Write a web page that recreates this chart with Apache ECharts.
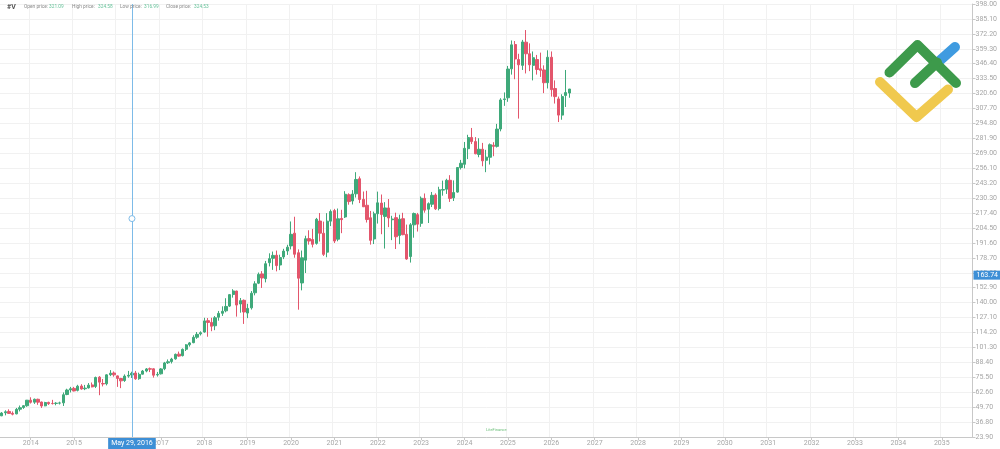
<!DOCTYPE html>
<html><head><meta charset="utf-8">
<script src="https://cdn.jsdelivr.net/npm/echarts@6/dist/echarts.min.js"></script>
<style>html,body{margin:0;padding:0;background:#fff}#c{width:1000px;height:449px}</style>
</head><body><div id="c"></div>
<script>
// Monthly candles for #V, May 2013 .. Jun 2026
const firstMonth = [2013, 5];
const opens = [42.2,44.8,46.0,44.4,43.9,47.9,49.4,50.9,
55.7,54.0,56.5,54.1,50.8,53.8,52.9,52.9,53.2,53.4,60.6,64.6,
65.9,64.2,67.9,65.6,66.3,68.9,67.6,75.6,70.1,69.9,77.7,79.2,
76.7,74.4,72.7,76.5,77.5,79.2,74.3,78.2,80.9,82.9,82.8,77.5,
78.5,82.9,88.0,89.1,91.4,95.5,94.2,99.7,103.6,105.4,110.1,113.0,
114.6,124.4,122.9,120.0,127.4,130.8,132.9,137.0,147.0,150.0,138.8,142.0,
131.0,135.5,148.5,156.8,164.8,160.7,174.5,178.3,180.9,172.5,179.5,184.6,
189.0,200.0,183.1,157.0,176.7,195.3,194.5,191.2,210.5,199.9,183.6,210.4,
219.5,194.8,212.7,214.0,233.2,227.8,234.0,247.0,229.2,224.1,213.3,195.0,
216.8,226.0,214.5,221.8,211.6,213.4,198.0,212.5,199.0,179.8,207.2,216.0,
208.5,230.1,220.7,225.0,233.0,221.3,237.2,238.0,245.7,230.5,235.5,256.7,
259.5,273.0,282.7,279.1,268.0,272.5,263.0,265.6,276.0,275.0,290.0,315.5,
317.0,342.0,363.0,350.0,345.0,365.0,355.0,345.0,350.0,342.0,341.0,330.0,
352.0,325.0,316.0,302.0,319.0,321.09];
const closes = [44.6,45.7,44.3,43.6,47.8,49.2,50.9,55.7,
53.9,56.5,54.0,50.7,53.7,52.7,52.75,53.1,53.3,60.4,64.5,65.6,
63.7,67.8,65.4,66.1,68.7,67.2,75.3,71.3,69.7,77.6,79.0,77.6,
74.5,72.4,76.5,77.2,78.9,74.2,78.0,80.9,82.7,82.5,77.3,78.0,
82.7,87.9,88.9,91.2,95.3,93.8,99.6,103.5,105.2,110.0,112.6,114.0,
124.2,122.9,119.6,126.9,130.7,132.5,136.7,146.9,150.1,137.9,141.7,131.9,
135.0,148.1,156.2,164.4,161.3,173.6,178.0,180.8,172.0,178.9,184.5,187.9,
199.0,181.8,161.1,178.7,195.2,193.2,190.4,212.0,200.0,181.7,210.4,218.7,
193.2,212.4,211.7,233.6,227.3,233.8,246.4,229.1,222.8,211.8,193.8,216.7,
226.2,216.1,221.8,213.1,212.2,196.9,212.1,198.7,177.7,207.2,217.0,207.8,
230.2,219.9,225.5,232.7,221.0,237.5,237.7,245.7,230.0,235.1,256.7,260.4,
273.3,282.6,279.1,268.6,272.5,262.5,265.7,276.4,275.0,289.9,315.1,316.0,
341.8,362.7,350.5,345.5,365.2,355.0,345.5,351.6,341.4,340.7,330.0,352.0,
324.0,318.0,302.0,318.0,321.5,324.53];
const lows = [41.9,42.6,43.8,42.6,43.5,46.0,48.2,50.0,
52.8,52.5,51.7,49.0,50.5,51.6,52.0,51.3,52.0,50.7,60.0,62.4,
63.3,63.3,64.8,64.4,65.8,66.8,66.2,60.0,67.6,68.5,76.5,76.0,
67.2,66.1,71.5,75.1,74.9,73.3,73.3,77.9,79.8,80.0,75.2,76.1,
77.9,81.6,87.0,87.4,90.7,93.2,93.5,98.2,102.0,104.9,108.7,111.6,
114.0,110.5,115.3,116.2,124.4,128.5,131.6,136.2,144.3,127.9,131.3,121.6,
126.6,134.0,146.3,156.0,152.7,157.5,171.3,168.3,167.0,168.1,177.6,181.2,
186.0,178.8,133.9,150.6,165.6,190.1,187.7,190.1,192.8,180.3,179.2,206.1,
191.5,193.0,200.0,213.1,224.6,224.8,230.8,226.0,222.6,209.2,190.1,190.6,
208.3,199.1,186.7,205.2,194.0,186.3,190.5,198.2,177.0,174.6,196.1,201.4,
205.5,217.7,208.8,222.6,220.0,219.7,232.4,233.9,227.0,227.8,235.0,255.0,
256.0,264.0,277.0,268.2,265.6,257.8,252.7,259.3,266.5,274.0,288.0,310.0,
313.5,337.0,333.0,299.0,341.0,338.0,340.0,332.0,337.0,335.0,321.0,325.0,
318.0,312.0,296.0,298.0,309.0,316.99];
const highs = [45.4,47.0,47.8,46.0,49.0,51.1,51.5,55.9,
58.2,57.1,57.0,54.5,54.3,54.4,56.0,54.0,54.4,62.4,65.6,67.2,
67.2,69.0,69.5,68.9,70.5,71.0,76.1,76.5,74.0,78.1,81.7,80.5,
77.1,75.0,78.0,81.0,80.3,81.0,79.5,81.8,83.5,83.9,83.3,80.1,
83.4,88.8,90.9,92.3,96.0,97.7,100.4,104.1,106.0,111.8,114.6,115.2,
126.9,126.7,126.9,128.4,132.8,136.8,143.8,147.4,151.6,150.3,144.0,142.7,
139.0,150.0,158.5,166.0,167.2,176.0,182.6,184.1,185.0,181.4,186.5,190.0,
210.1,214.2,186.0,185.0,197.8,202.5,203.7,213.2,217.4,210.0,217.3,220.4,
221.0,221.3,220.2,236.3,234.4,237.2,252.7,249.0,236.0,236.6,219.2,218.6,
235.9,233.4,226.8,229.5,215.0,217.7,216.0,217.6,207.4,208.7,217.8,217.5,
231.7,234.3,226.6,235.6,234.4,240.1,245.4,247.0,250.1,245.6,257.0,263.3,
278.8,285.0,290.9,283.0,282.0,278.0,272.0,277.5,278.6,294.4,316.6,321.6,
344.5,366.5,366.0,355.0,367.0,375.5,364.0,357.0,354.0,356.0,345.0,358.0,
357.0,332.0,318.0,320.0,341.0,324.58];
const lastMonth = [2035, 9];
const yTicks = {min: 23.9, max: 398.0, step: 12.9};
const crosshairMonth = '2016-05';
const crosshairLabel = 'May 29, 2016';
const crosshairPrice = 212.6;
const priceTag = 163.74;
const headerSymbol = '#V';
const headerLabels = ['Open price:', 'High price:', 'Low price:', 'Close price:'];
const headerValues = ['321.09', '324.58', '316.99', '324.53'];

// categories (one per month, future months stay empty)
const months = [];
for (let y = firstMonth[0], m = firstMonth[1]; y < lastMonth[0] || (y === lastMonth[0] && m <= lastMonth[1]); ) {
  months.push(y + '-' + String(m).padStart(2, '0'));
  m++; if (m > 12) { m = 1; y++; }
}
const candles = opens.map((o, i) => [o, closes[i], lows[i], highs[i]]);

const UP = '#3fa97a', DOWN = '#e3566c', BLUE = '#3d8fd6';
const isJan = (i, v) => String(v).endsWith('-01');

// header layout (x positions of each label and value)
const labelX = [24, 72, 120, 166];
const valueX = [49, 98, 144, 194];
const headerGraphics = [{type: 'text', x: 7, y: 7, z: 10,
  style: {text: headerSymbol, fontSize: 7, fontWeight: 'bold', fill: '#555', fontFamily: 'Roboto', verticalAlign: 'middle'}}];
headerLabels.forEach((l, i) => {
  headerGraphics.push({type: 'text', x: labelX[i], y: 7, z: 10,
    style: {text: l, fontSize: 4.8, fill: '#8a8a8a', fontFamily: 'Roboto', verticalAlign: 'middle'}});
  headerGraphics.push({type: 'text', x: valueX[i], y: 7, z: 10,
    style: {text: headerValues[i], fontSize: 4.8, fill: '#66c29a', fontFamily: 'Roboto', verticalAlign: 'middle'}});
});

const chart = echarts.init(document.getElementById('c'), null, {renderer: 'canvas'});
chart.setOption({
  animation: false,
  backgroundColor: '#ffffff',
  grid: {left: 0, right: 24, top: 4, bottom: 12},
  xAxis: {
    type: 'category', data: months, boundaryGap: true,
    axisLine: {lineStyle: {color: '#c8c8c8', width: 1}},
    axisTick: {show: true, interval: isJan, alignWithLabel: true, length: 3, lineStyle: {color: '#c8c8c8'}},
    axisLabel: {interval: isJan, formatter: v => v.slice(0, 4), color: '#a6a6a6', fontSize: 7, margin: 3, fontFamily: 'Roboto'},
    splitLine: {show: true, interval: isJan, lineStyle: {color: '#f1f1f1', width: 1}}
  },
  yAxis: {
    type: 'value', position: 'right', scale: true,
    min: yTicks.min, max: yTicks.max, interval: yTicks.step,
    axisLine: {show: true, lineStyle: {color: '#c8c8c8'}},
    axisTick: {show: true, length: 3, lineStyle: {color: '#c8c8c8'}},
    axisLabel: {formatter: v => v.toFixed(2), color: '#a6a6a6', fontSize: 7, margin: 3, fontFamily: 'Roboto'},
    splitLine: {show: true, lineStyle: {color: '#f1f1f1', width: 1}}
  },
  series: [{
    type: 'candlestick', data: candles, barWidth: 2.8,
    itemStyle: {color: UP, color0: DOWN, borderColor: UP, borderColor0: DOWN, borderWidth: 1},
    markLine: {
      silent: true, symbol: ['none', 'none'], animation: false,
      data: [
        {xAxis: crosshairMonth, lineStyle: {color: '#7dbbe8', width: 1, type: 'solid'},
         label: {show: true, position: 'start', distance: 1, formatter: crosshairLabel, color: '#fff', backgroundColor: BLUE,
                 padding: [2, 3, 2, 3], fontSize: 7, fontFamily: 'Roboto'}},
        {yAxis: priceTag, lineStyle: {color: 'rgba(0,0,0,0)', width: 0},
         label: {show: true, position: 'end', distance: 1, formatter: priceTag.toFixed(2), color: '#fff', backgroundColor: BLUE,
                 padding: [1, 2, 1, 3], fontSize: 7, fontFamily: 'Roboto'}}
      ]
    },
    markPoint: {
      silent: true, animation: false,
      data: [{coord: [crosshairMonth, crosshairPrice], symbol: 'circle', symbolSize: 6,
              itemStyle: {color: '#fff', borderColor: '#7dbbe8', borderWidth: 1}, label: {show: false}}]
    }
  }],
  graphic: headerGraphics.concat([
    // logo (top right)
    {type: 'polyline', z: 10, shape: {points: [[880, 82], [916.5, 117], [948, 89.5]]},
     style: {stroke: '#f0c94e', lineWidth: 10, lineCap: 'round', lineJoin: 'round', fill: null}},
    {type: 'polyline', z: 11, shape: {points: [[936.5, 63.5], [955, 47]]},
     style: {stroke: '#3f9be0', lineWidth: 10, lineCap: 'round', fill: null}},
    {type: 'polyline', z: 12, shape: {points: [[889.5, 72.5], [917.5, 45], [956, 83]]},
     style: {stroke: '#3d9a4b', lineWidth: 10, lineCap: 'round', lineJoin: 'round', fill: null}},
    {type: 'polyline', z: 12, shape: {points: [[915, 83], [937, 62.5]]},
     style: {stroke: '#3d9a4b', lineWidth: 10, lineCap: 'round', fill: null}},
    // small watermark
    {type: 'text', left: 486, top: 428, z: 10,
     style: {text: 'LiteFinance', fontSize: 4, fill: '#6cbf7a', fontFamily: 'Roboto'}}
  ])
});
</script></body></html>
